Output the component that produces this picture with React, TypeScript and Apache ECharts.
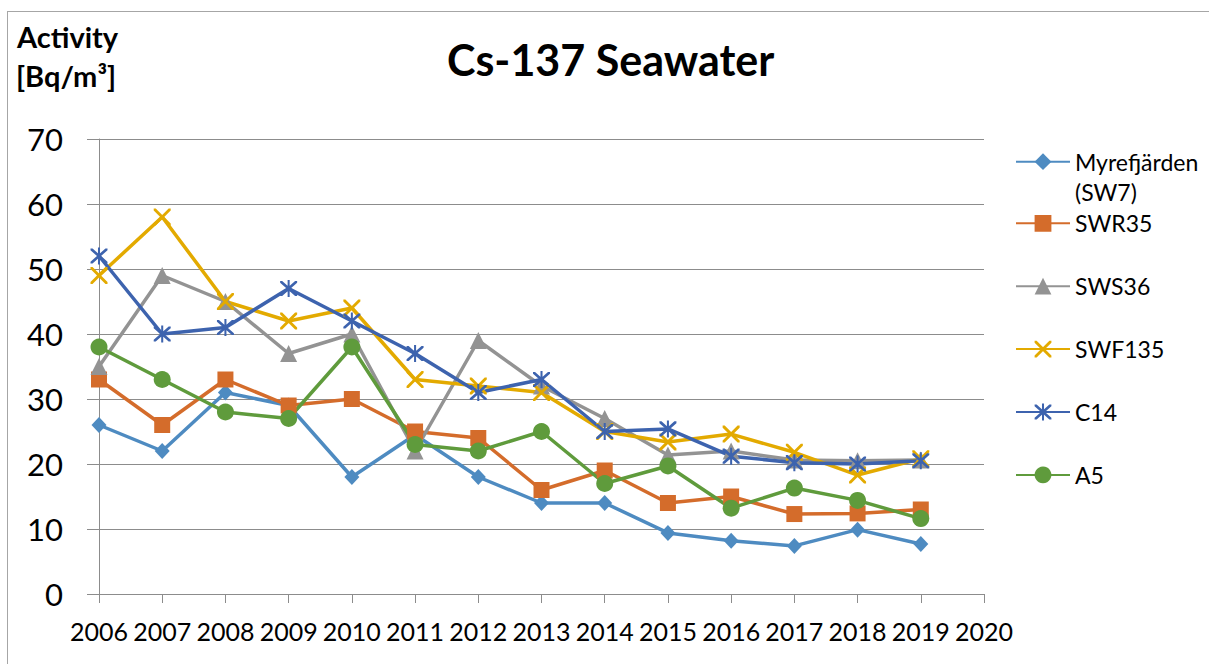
import React, { useEffect, useRef } from "react";
import * as echarts from "echarts";

const years = ["2006","2007","2008","2009","2010","2011","2012","2013","2014","2015","2016","2017","2018","2019","2020"];
const myrefjarden = [26, 22, 31, 29, 18, 24.5, 18, 14, 14, 9.4, 8.2, 7.4, 9.9, 7.7];
const swr35 = [33, 26, 33, 29, 30, 25, 24, 16, 19, 14, 15, 12.3, 12.4, 13];
const sws36 = [35, 49, 45, 37, 40, 22, 39, 32, 27, 21.4, 22, 20.6, 20.5, 20.6];
const swf135 = [49, 58, 45, 42, 44, 33, 32, 31, 25, 23.4, 24.6, 21.8, 18.3, 20.8];
const c14 = [52, 40, 41, 47, 42, 37, 31, 33, 25, 25.4, 21.2, 20.2, 20, 20.5];
const a5 = [38, 33, 28, 27, 38, 23, 22, 25, 17, 19.7, 13.2, 16.3, 14.4, 11.6];
const seriesNames = ["Myrefjärden (SW7)", "SWR35", "SWS36", "SWF135", "C14", "A5"];

const FONT = "Lato";
const AXIS = "#8c8c8c";

const xPath = "path://M0,0 L12,0 L100,88 L100,100 L88,100 L0,12 Z M100,0 L100,12 L12,100 L0,100 L0,88 L88,0 Z";
const starPath = "path://M0,0 L12,0 L100,88 L100,100 L88,100 L0,12 Z M100,0 L100,12 L12,100 L0,100 L0,88 L88,0 Z M44,-6 L56,-6 L56,106 L44,106 Z";

export default function App() {
  const ref = useRef<HTMLDivElement>(null);
  useEffect(() => {
    const chart = echarts.init(ref.current!, undefined, { renderer: "svg" });
    const mk = (name: string, data: number[], color: string, symbol: string, size: any) => ({
      name,
      type: "line",
      data,
      symbol,
      symbolSize: size,
      showAllSymbol: true,
      lineStyle: { color, width: 3.5 },
      itemStyle: { color },
      z: 2,
    });
    const legendText = { fontFamily: FONT, fontSize: 23, color: "#000", lineHeight: 30 };
    chart.setOption({
      animation: false,
      backgroundColor: "#fff",
      title: {
        text: "Cs-137 Seawater",
        left: 447,
        top: 38,
        padding: 0,
        textStyle: { fontFamily: FONT, fontWeight: "bold", fontSize: 43, color: "#000" },
      },
      graphic: [
        { type: "line", shape: { x1: 7.5, y1: 11, x2: 7.5, y2: 664 }, style: { stroke: "#a6a6a6", lineWidth: 1 } },
        { type: "line", shape: { x1: 7, y1: 11.5, x2: 1209, y2: 11.5 }, style: { stroke: "#a6a6a6", lineWidth: 1 } },
        { type: "text", left: 17, top: 22, style: { text: "Activity", fontFamily: FONT, fontWeight: "bold", fontSize: 29, fill: "#000" } },
        { type: "text", left: 16, top: 61, style: { text: "[Bq/m³]", fontFamily: FONT, fontWeight: "bold", fontSize: 29, fill: "#000" } },
      ],
      legend: [
        {
          data: [seriesNames[0]],
          orient: "vertical",
          left: 1015,
          top: 116.7,
          padding: 0,
          itemWidth: 54,
          itemHeight: 21,
          itemGap: 5,
          formatter: (n: string) => " \n" + n.replace(" ", "\n"),
          textStyle: legendText,
        },
        {
          data: seriesNames.slice(1),
          orient: "vertical",
          left: 1015,
          top: 208.3,
          padding: 0,
          itemWidth: 54,
          itemHeight: 21,
          itemGap: 32.9,
          textStyle: legendText,
        },
      ],
      grid: { left: 99, right: 225, top: 139, bottom: 70, containLabel: false },
      xAxis: {
        type: "category",
        data: years,
        boundaryGap: false,
        axisLine: { lineStyle: { color: AXIS, width: 1 } },
        axisTick: { show: true, length: 9, lineStyle: { color: AXIS } },
        axisLabel: { fontFamily: FONT, fontSize: 25, color: "#000", margin: 24, interval: 0 },
        splitLine: { show: false },
      },
      yAxis: {
        type: "value",
        min: 0,
        max: 70,
        interval: 10,
        axisLine: { show: true, lineStyle: { color: AXIS, width: 1 } },
        axisTick: { show: true, length: 12, lineStyle: { color: AXIS } },
        axisLabel: { fontFamily: FONT, fontSize: 31, color: "#000", margin: 36 },
        splitLine: { show: true, lineStyle: { color: AXIS, width: 1 } },
      },
      series: [
        mk(seriesNames[0], myrefjarden, "#4e8bc1", "diamond", [15, 16]),
        mk(seriesNames[1], swr35, "#d46c2b", "rect", 16),
        mk(seriesNames[2], sws36, "#939393", "triangle", 17),
        mk(seriesNames[3], swf135, "#e3aa00", xPath, 17),
        mk(seriesNames[4], c14, "#3d63ae", starPath, 17),
        mk(seriesNames[5], a5, "#5f9b3c", "circle", 17),
      ],
    });
    return () => chart.dispose();
  }, []);
  return <div ref={ref} style={{ position: "absolute", left: 0, top: 0, width: 1209, height: 664 }} />;
}
